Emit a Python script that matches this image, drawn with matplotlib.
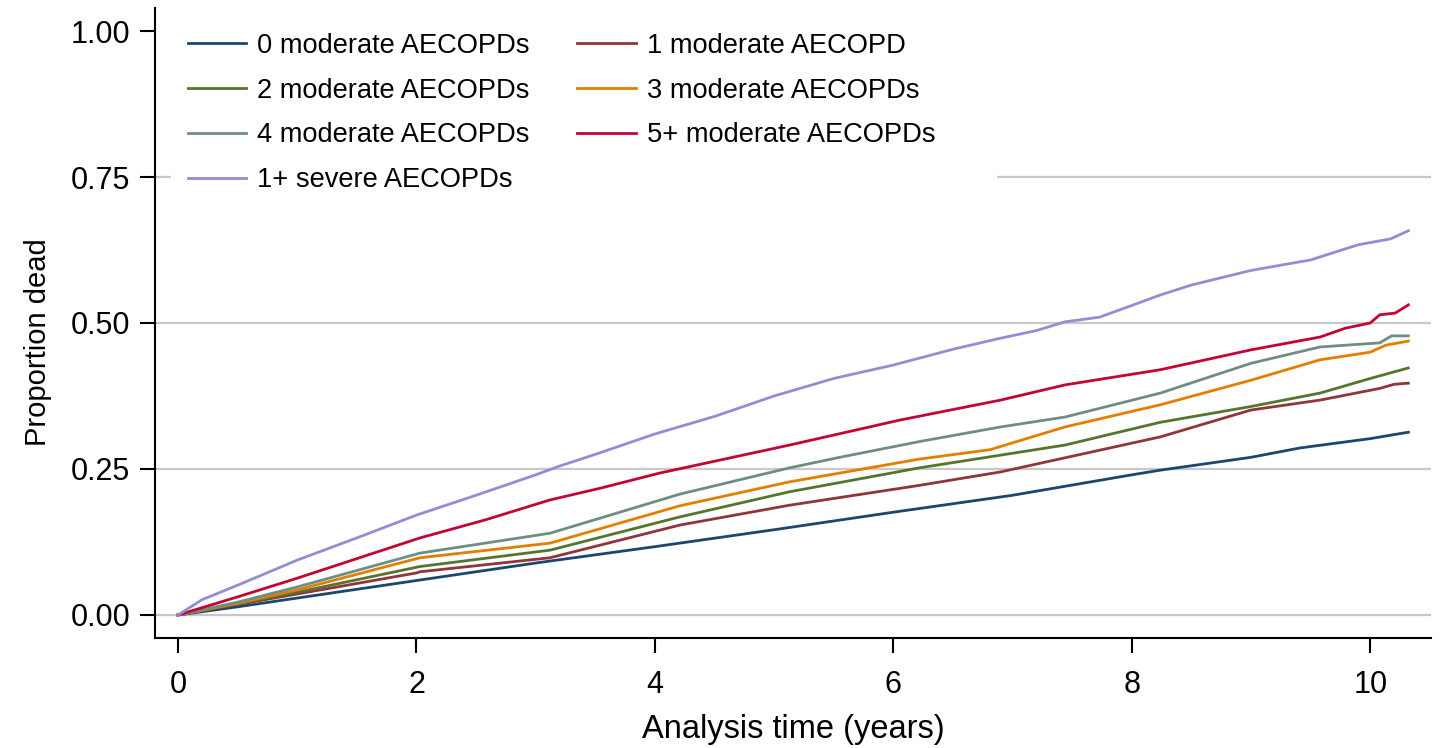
import matplotlib
matplotlib.use("Agg")
import matplotlib.pyplot as plt
from matplotlib.patches import Rectangle

plt.rcParams['font.family'] = ['Liberation Sans', 'DejaVu Sans']

# ---- data ----
t_0 = [0, 0.5, 1, 2, 3, 4, 5, 6, 7, 8, 8.24, 9, 9.41, 10, 10.32]
p_0 = [0, 0.014, 0.029, 0.059, 0.089, 0.117, 0.146, 0.176, 0.205, 0.240, 0.248, 0.270, 0.286, 0.302, 0.313]

t_1 = [0, 0.5, 1, 2, 2.03, 3.12, 4.21, 5.13, 6.22, 6.9, 8.24, 9.0, 9.58, 10.08, 10.2, 10.32]
p_1 = [0, 0.018, 0.036, 0.072, 0.074, 0.098, 0.154, 0.188, 0.222, 0.245, 0.305, 0.351, 0.368, 0.388, 0.395, 0.397]

t_2 = [0, 0.5, 1, 2.03, 3.12, 4.21, 5.13, 6.22, 7.44, 8.24, 9.0, 9.58, 10.0, 10.32]
p_2 = [0, 0.019, 0.039, 0.083, 0.111, 0.168, 0.211, 0.252, 0.291, 0.330, 0.357, 0.380, 0.405, 0.423]

t_3 = [0, 0.5, 1, 2.03, 3.12, 4.21, 5.13, 6.22, 6.81, 7.44, 8.24, 9.0, 9.58, 10.0, 10.13, 10.32]
p_3 = [0, 0.020, 0.043, 0.098, 0.123, 0.187, 0.228, 0.267, 0.283, 0.322, 0.360, 0.402, 0.437, 0.450, 0.462, 0.469]

t_4 = [0, 0.5, 1, 2.03, 3.12, 4.21, 5.13, 5.55, 6.22, 6.9, 7.44, 8.24, 9.0, 9.58, 10.08, 10.18, 10.32]
p_4 = [0, 0.022, 0.048, 0.106, 0.140, 0.207, 0.252, 0.270, 0.297, 0.322, 0.339, 0.380, 0.431, 0.459, 0.466, 0.478, 0.478]

t_5 = [0, 0.5, 1, 2.03, 2.58, 3.12, 3.54, 4.04, 5.13, 6.06, 6.9, 7.44, 8.24, 9.0, 9.58, 9.79, 10.0, 10.08, 10.21, 10.32]
p_5 = [0, 0.031, 0.063, 0.132, 0.163, 0.197, 0.217, 0.243, 0.291, 0.334, 0.368, 0.394, 0.420, 0.454, 0.476, 0.491, 0.500, 0.514, 0.517, 0.531]

t_s = [0, 0.2, 0.5, 1, 1.5, 2, 2.5, 3, 3.2, 3.5, 4, 4.5, 5, 5.5, 6, 6.5, 6.9, 7.2, 7.44, 7.73, 8, 8.24, 8.5, 9, 9.5, 9.9, 10.17, 10.32]
p_s = [0, 0.026, 0.051, 0.094, 0.132, 0.171, 0.205, 0.240, 0.255, 0.275, 0.310, 0.340, 0.375, 0.405, 0.428, 0.455, 0.474, 0.487, 0.502, 0.510, 0.530, 0.548, 0.565, 0.590, 0.608, 0.634, 0.644, 0.658]

labels = ["0 moderate AECOPDs", "1 moderate AECOPD", "2 moderate AECOPDs",
          "3 moderate AECOPDs", "4 moderate AECOPDs", "5+ moderate AECOPDs",
          "1+ severe AECOPDs"]
colors = ["#1a476f", "#90353b", "#55752f", "#e37e00", "#6e8e84", "#c10534", "#938dd2"]
series = [(t_0, p_0), (t_1, p_1), (t_2, p_2), (t_3, p_3), (t_4, p_4), (t_5, p_5), (t_s, p_s)]

xticks = [0, 2, 4, 6, 8, 10]
yticks = [0.0, 0.25, 0.5, 0.75, 1.0]
ytick_labels = ["0.00", "0.25", "0.50", "0.75", "1.00"]
grid_levels = [0.0, 0.25, 0.5, 0.75]

W, H = 1443, 748
fig = plt.figure(figsize=(W/100, H/100), dpi=100)
ax = fig.add_axes([155/W, 1-638/H, (1431-155)/W, (638-8)/H])

for g in grid_levels:
    ax.axhline(g, color="#c8c8c8", lw=1.6, zorder=0.5)

# white area behind the legend (hides part of the 0.75 gridline)
ax.add_patch(Rectangle((171/W, 1-205/H), (997-171)/W, (205-12)/H,
                       transform=fig.transFigure, facecolor="white",
                       edgecolor="none", zorder=1))

lines = []
for (t, p), c, lab in zip(series, colors, labels):
    ln, = ax.plot(t, p, color=c, lw=2.0, label=lab, zorder=3)
    lines.append(ln)

ax.set_xlim(-0.193, 10.51)
ax.set_ylim(-0.0394, 1.0394)
ax.set_xticks(xticks)
ax.set_xticklabels([str(v) for v in xticks])
ax.set_yticks(yticks)
ax.set_yticklabels(ytick_labels)
for s in ("top", "right"):
    ax.spines[s].set_visible(False)
for s in ("left", "bottom"):
    ax.spines[s].set_linewidth(1.5)
ax.tick_params(axis="both", labelsize=22, width=1.5, length=11, color="black")
ax.tick_params(axis="x", pad=12)
ax.tick_params(axis="y", pad=7)

ax.set_xlabel("Analysis time (years)", fontsize=23.5, labelpad=10)
ax.set_ylabel("Proportion dead", fontsize=21)
ax.yaxis.set_label_coords(38/W, 1-342/H, transform=fig.transFigure)
ax.yaxis.label.set_verticalalignment("center")

order = [0, 2, 4, 6, 1, 3, 5]
leg = ax.legend([lines[i] for i in order], [labels[i] for i in order],
                ncol=2, loc="upper left", bbox_to_anchor=(166/W, 1-11/H),
                bbox_transform=fig.transFigure, fontsize=19.6,
                frameon=False, handlelength=2.15, handletextpad=0.4,
                columnspacing=1.75, labelspacing=0.69, borderpad=0.3)
leg.set_zorder(5)

fig.savefig("out.png", dpi=100, facecolor="white")
